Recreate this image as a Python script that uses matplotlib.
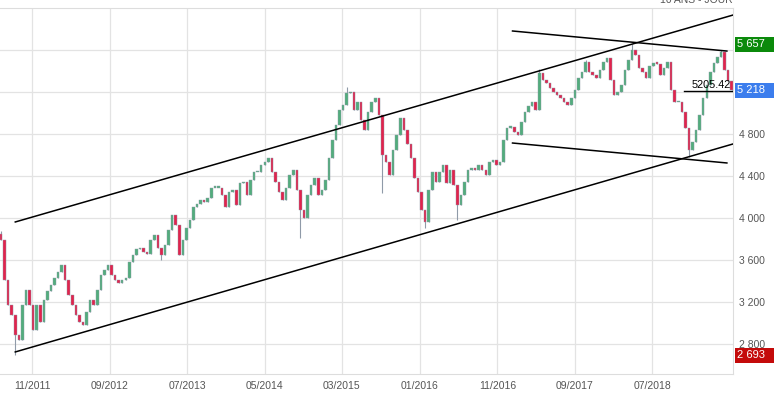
import numpy as np
import pandas as pd
import matplotlib
matplotlib.use("Agg")
import matplotlib.pyplot as plt
import matplotlib.dates as mdates
import matplotlib.transforms as mtransforms
from matplotlib.patches import Rectangle

plt.rcParams['font.family'] = ['Liberation Sans', 'DejaVu Sans']

# bi-weekly closes (CAC 40, 2011 -> 2019)
closes = [
    3790, 3410, 3170, 3080, 2890, 2840, 3170, 3310, 3170, 2930,
    3170, 3010, 3220, 3300, 3360, 3430, 3490, 3550, 3410, 3270,
    3170, 3080, 3010, 2980, 3100, 3220, 3170, 3310, 3460, 3500,
    3550, 3460, 3410, 3380, 3410, 3430, 3580, 3650, 3700, 3710,
    3680, 3660, 3790, 3840, 3710, 3650, 3740, 3890, 4030, 3930,
    3650, 3790, 3900, 3980, 4100, 4130, 4170, 4150, 4190, 4290,
    4290, 4290, 4220, 4100, 4250, 4270, 4120, 4330, 4340, 4220,
    4360, 4440, 4440, 4500, 4530, 4570, 4440, 4340, 4250, 4170,
    4290, 4410, 4460, 4270, 4080, 4000, 4220, 4310, 4380, 4220,
    4270, 4360, 4570, 4740, 4890, 5030, 5080, 5190, 5200, 5030,
    5100, 4930, 4840, 5010, 5100, 5140, 4980, 4600, 4530, 4410,
    4650, 4790, 4950, 4840, 4700, 4570, 4380, 4250, 4080, 3960,
    4270, 4440, 4340, 4440, 4500, 4330, 4460, 4310, 4120, 4220,
    4340, 4460, 4480, 4460, 4500, 4460, 4410, 4530, 4550, 4500,
    4530, 4740, 4860, 4870, 4820, 4790, 4910, 5010, 5070, 5100,
    5030, 5380, 5310, 5290, 5240, 5200, 5170, 5140, 5100, 5080,
    5140, 5220, 5330, 5390, 5490, 5390, 5360, 5330, 5410, 5490,
    5520, 5310, 5170, 5200, 5270, 5410, 5500, 5600, 5550, 5430,
    5390, 5330, 5450, 5480, 5470, 5360, 5430, 5490, 5220, 5100,
    5100, 5010, 4860, 4650, 4720, 4840, 4980, 5140, 5270, 5390,
    5480, 5530, 5580, 5410, 5300, 5218,
]
first_open = 3850
dates = pd.date_range('2011-07-01', periods=len(closes), freq='14D')

# notable wick extremes (candle index -> value)
wick_lows = {4: 2693, 45: 3600, 84: 3810, 107: 4240, 119: 3905, 128: 3980, 193: 4580}
wick_highs = {0: 3880, 97: 5250, 151: 5420, 164: 5505, 177: 5657, 202: 5600}

# trend lines drawn on the chart
trend_lines = [
    (('2011-08-26', 3962), ('2019-05-15', 5933)),
    (('2011-08-26', 2724), ('2019-05-15', 4705)),
    (('2016-12-30', 5781), ('2019-04-21', 5590)),
    (('2016-12-30', 4714), ('2019-04-21', 4524)),
]
level_value = 5205.42
level_start = '2018-11-05'

y_ticks = [2800, 3200, 3600, 4000, 4400, 4800, 5200, 5600]
y_labels = ['2 800', '3 200', '3 600', '4 000', '4 400', '4 800', '', '']
x_ticks = ['2011-11-01', '2012-09-01', '2013-07-01', '2014-05-01', '2015-03-01',
           '2016-01-01', '2016-11-01', '2017-09-01', '2018-07-01']
x_labels = ['11/2011', '09/2012', '07/2013', '05/2014', '03/2015',
            '01/2016', '11/2016', '09/2017', '07/2018']

badges = [(5657, '5 657', '#0b8a0b'), (5218, '5 218', '#3b7ded'), (2693, '2 693', '#c40a0a')]

UP = '#52ad7c'
DOWN = '#e2234d'
WICK = '#8f9aa8'

fig = plt.figure(figsize=(7.74, 3.96), dpi=100)
ax = fig.add_axes([0.0, 22 / 396, 733 / 774, 366 / 396])

x = mdates.date2num(dates)
c = np.array(closes, dtype=float)
o = np.concatenate([[first_open], c[:-1]])
hi = np.maximum(o, c)
lo = np.minimum(o, c)
for k, v in wick_highs.items():
    hi[k] = v
for k, v in wick_lows.items():
    lo[k] = v

# candles: gray wick, coloured body
ax.vlines(x, lo, hi, color=WICK, lw=0.8, zorder=2)
up = c >= o
bottom = np.minimum(o, c)
body = np.maximum(np.abs(c - o), 12)
ax.bar(x[up], body[up], bottom=bottom[up], width=10,
       color=UP, edgecolor=WICK, linewidth=0.3, zorder=3)
ax.bar(x[~up], body[~up], bottom=bottom[~up], width=10,
       color=DOWN, edgecolor=WICK, linewidth=0.3, zorder=3)

for (d0, v0), (d1, v1) in trend_lines:
    ax.plot(pd.to_datetime([d0, d1]), [v0, v1], color='black', lw=1.1, zorder=4)

ax.plot(pd.to_datetime([level_start, '2019-05-15']), [level_value, level_value],
        color='black', lw=1.0, zorder=4)
ax.text(pd.to_datetime('2019-05-05'), level_value + 15, f'{level_value:.2f}',
        ha='right', va='bottom', fontsize=7.8, color='black', zorder=5)

ax.set_xlim(pd.to_datetime('2011-06-27'), pd.to_datetime('2019-05-15'))
ax.set_ylim(2514, 6000)

ax.yaxis.tick_right()
ax.set_yticks(y_ticks)
ax.set_yticklabels(y_labels)
ax.set_xticks(pd.to_datetime(x_ticks))
ax.set_xticklabels(x_labels)
ax.tick_params(axis='both', length=0, labelsize=7.5, labelcolor='#555555')
ax.tick_params(axis='y', pad=4)
ax.tick_params(axis='x', pad=5)
ax.grid(True, color='#e3e3e3', lw=0.9, zorder=0)
ax.set_axisbelow(True)
ax.spines['left'].set_visible(False)
for side in ['top', 'right', 'bottom']:
    ax.spines[side].set_color('#dddddd')

# last / max / min badges on the price axis, running to the right edge
trans = mtransforms.blended_transform_factory(fig.transFigure, ax.transData)
half_h = 7.5 * (6000 - 2514) / 366
for val, txt, col in badges:
    fig.patches.append(Rectangle((735 / 774, val - half_h), 39 / 774, 2 * half_h,
                                 transform=trans, facecolor=col, edgecolor='none',
                                 zorder=6))
    fig.text(737 / 774, val, txt, transform=trans, ha='left', va='center',
             fontsize=8, color='white', zorder=7)

fig.text(733 / 774, 1 - 5 / 396, '10 ANS - JOUR', ha='right', va='bottom',
         fontsize=7.5, color='#555555')

fig.savefig('out.png', dpi=100)
